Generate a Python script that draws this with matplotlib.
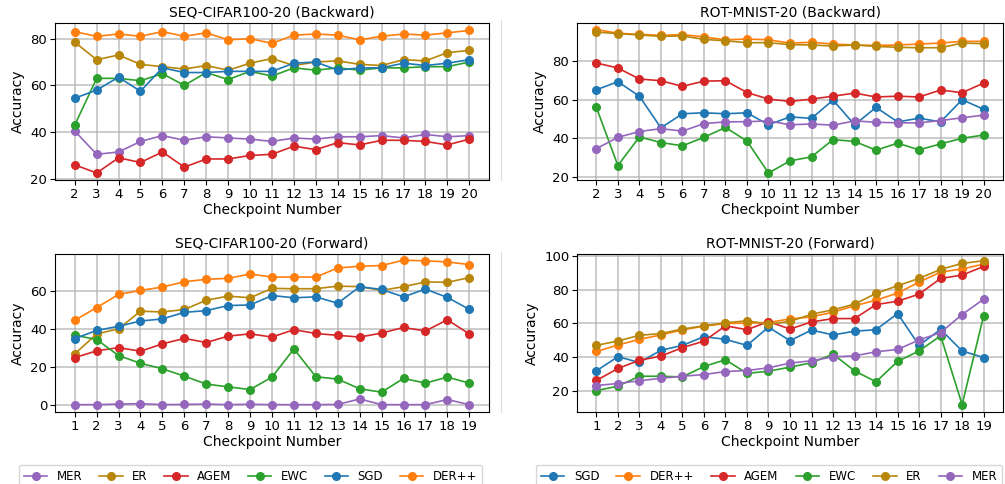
import matplotlib
matplotlib.use("Agg")
import matplotlib.pyplot as plt
from matplotlib.lines import Line2D

# ---------------- data ----------------
x_back = list(range(2, 21))
x_fwd = list(range(1, 20))

# SEQ-CIFAR100-20 (Backward)
cb_mer = [40.5, 30.5, 31.5, 36, 38.5, 36.5, 38, 37.5, 37, 36, 37.5, 37, 38, 38, 38.5, 37.5, 39, 38, 38.5]
cb_er = [78.5, 71, 73, 69, 68, 67, 68.5, 66.5, 69.5, 71.5, 68.5, 70, 70.5, 69, 68.5, 71, 70.5, 74, 75]
cb_agem = [26, 22.5, 29, 27, 31.5, 25, 28.5, 28.5, 30, 30.5, 34, 32.5, 35.5, 34.5, 36.5, 36.5, 36, 34.5, 37]
cb_ewc = [43, 63, 63, 62, 65, 60, 65.5, 62.5, 66, 64, 67.5, 66.5, 67.5, 66.5, 67.5, 67.5, 68, 68, 70]
cb_sgd = [54.5, 58, 63.5, 57.5, 67.5, 65.5, 65.5, 66, 66, 66, 69.5, 70, 66.5, 67.5, 67.5, 69.5, 68.5, 69.5, 71]
cb_derpp = [83, 81, 82, 81, 83, 81, 82.5, 79.5, 80, 78, 81.5, 82, 81.5, 79.5, 81, 82, 81.5, 82.5, 83.5]

# ROT-MNIST-20 (Backward)
mb_sgd = [65.1, 69.3, 61.8, 45.4, 52.7, 53.2, 52.7, 53.2, 47, 51.1, 50.3, 59.8, 47, 56, 48.5, 50.4, 48.5, 60, 55]
mb_derpp = [96.3, 94.4, 93.8, 93.3, 93.7, 92.5, 91, 91.4, 91, 89.3, 89.7, 88.8, 88.3, 88.1, 88.3, 88.8, 89.3, 90.2, 90.2]
mb_agem = [79, 76.4, 70.7, 69.8, 66.9, 69.6, 69.8, 63.7, 60.3, 59.1, 60.3, 61.8, 63.4, 61.4, 61.8, 61.4, 65, 63.6, 68.6]
mb_ewc = [56, 25.9, 40.7, 37.8, 36.1, 40.5, 45.6, 38.6, 22, 28.3, 30.4, 39.3, 38.4, 33.8, 37.5, 34, 37.1, 40, 41.7]
mb_er = [95, 94.2, 93.5, 92.8, 93, 91.2, 90.5, 89.5, 89.5, 88.5, 88.3, 87.8, 88.3, 87.6, 87.1, 86.9, 86.9, 89.3, 89]
mb_mer = [34.6, 40.5, 43.5, 45, 43.7, 47.6, 48.5, 48.6, 49, 47, 47.4, 46.8, 49, 48.3, 48, 48, 49.2, 50.6, 52]

# SEQ-CIFAR100-20 (Forward)
cf_mer = [0, 0, 0.3, 0.5, 0, 0.1, 0.3, 0, 0.2, 0, 0, 0, 0.1, 3.0, 0, 0, 0, 2.7, 0]
cf_er = [26.9, 37.4, 40.2, 49.5, 49.1, 50.4, 55.3, 57.5, 56.6, 61.6, 61.4, 61.4, 62.8, 62.5, 60.5, 62.5, 65, 64.8, 67.3]
cf_agem = [24.9, 28.5, 30.2, 28.3, 32.2, 35.1, 32.9, 36.3, 37.5, 35.8, 39.7, 37.7, 36.7, 35.8, 37.9, 40.9, 39, 45, 37.4]
cf_ewc = [36.8, 34.5, 26, 21.9, 19, 15.1, 10.9, 9.4, 8, 14.6, 29.5, 14.8, 13.5, 8.4, 6.6, 13.9, 11.4, 14.6, 11.4]
cf_sgd = [35, 39.3, 41.5, 44.3, 45.4, 48.9, 49.8, 52.5, 52.8, 57.8, 56.6, 57.1, 53.7, 62.5, 61, 57.1, 61.2, 56.8, 50.5]
cf_derpp = [44.7, 51.4, 58.4, 60.5, 62.3, 65.1, 66.4, 66.9, 69.2, 67.6, 67.6, 67.6, 72.4, 73.3, 73.7, 76.5, 76.2, 75.6, 74.2]

# ROT-MNIST-20 (Forward)
mf_sgd = [31.9, 40.3, 36.9, 44.1, 47, 52.2, 50.6, 47, 57.8, 49.8, 56.1, 53.2, 55.4, 56.3, 65.9, 47, 56.5, 43.7, 39.8]
mf_derpp = [43.4, 47.2, 50.6, 53.2, 56.2, 58.4, 60, 60.2, 60.6, 62.7, 63.9, 66.7, 70.5, 73.8, 78, 84.5, 90.5, 92.3, 95.2]
mf_agem = [26.2, 33.3, 38.2, 40.6, 45.7, 49.5, 58.6, 56.3, 61.1, 56.7, 60.9, 62.9, 62.9, 71.2, 73.2, 77.4, 86.7, 88.7, 93.8]
mf_ewc = [20.2, 22.8, 28.7, 28.7, 28.3, 34.5, 38.5, 30.4, 31.7, 34.1, 36.7, 41.8, 31.9, 25.4, 37.5, 43.7, 52.7, 11.9, 64.6]
mf_er = [47, 49.6, 53, 54, 56.7, 58.6, 60.4, 61.6, 59.6, 61.2, 65.5, 68.1, 71.5, 77.8, 82.4, 86.7, 92.1, 95.6, 97.2]
mf_mer = [23.2, 24.4, 26, 27.5, 28.7, 29.7, 31.5, 32.1, 33.7, 36.5, 37.9, 40.2, 40.8, 43.2, 44.6, 50.2, 54.6, 65.3, 74.4]

colors = {
    "SGD": "#1f77b4", "DER++": "#ff7f0e", "AGEM": "#d62728",
    "EWC": "#2ca02c", "ER": "#b8860b", "MER": "#9467bd",
}

left_order = ["MER", "ER", "AGEM", "EWC", "SGD", "DER++"]
right_order = ["SGD", "DER++", "AGEM", "EWC", "ER", "MER"]

panels = [
    ("SEQ-CIFAR100-20 (Backward)", x_back, left_order,
     {"MER": cb_mer, "ER": cb_er, "AGEM": cb_agem, "EWC": cb_ewc, "SGD": cb_sgd, "DER++": cb_derpp},
     (19.5, 86.7)),
    ("ROT-MNIST-20 (Backward)", x_back, right_order,
     {"SGD": mb_sgd, "DER++": mb_derpp, "AGEM": mb_agem, "EWC": mb_ewc, "ER": mb_er, "MER": mb_mer},
     (18.4, 99.7)),
    ("SEQ-CIFAR100-20 (Forward)", x_fwd, left_order,
     {"MER": cf_mer, "ER": cf_er, "AGEM": cf_agem, "EWC": cf_ewc, "SGD": cf_sgd, "DER++": cf_derpp},
     (-3.9, 79.8)),
    ("ROT-MNIST-20 (Forward)", x_fwd, right_order,
     {"SGD": mf_sgd, "DER++": mf_derpp, "AGEM": mf_agem, "EWC": mf_ewc, "ER": mf_er, "MER": mf_mer},
     (7.5, 101.2)),
]

W, H = 1005, 484
fig = plt.figure(figsize=(W / 100, H / 100), dpi=100)

# axes rectangles in pixels (left, top, right, bottom)
rects = [(55, 23, 489, 180), (577, 23, 1003, 180),
         (55, 254, 489, 412), (577, 254, 1003, 412)]

axes = []
for (title, xs, order, series, ylim), (l, t, r, b) in zip(panels, rects):
    ax = fig.add_axes([l / W, 1 - b / H, (r - l) / W, (b - t) / H])
    for name in order:
        ax.plot(xs, series[name], marker="o", markersize=5.5, linewidth=1.2,
                color=colors[name], label=name)
    ax.set_xticks(xs)
    ax.set_ylim(*ylim)
    ax.grid(True, color="#b0b0b0", linewidth=1.2, alpha=0.75)
    ax.set_title(title, fontsize=10, pad=5)
    ax.set_xlabel("Checkpoint Number", fontsize=10, labelpad=2)
    ax.set_ylabel("Accuracy", fontsize=10)
    ax.tick_params(labelsize=9.5, pad=2)
    axes.append(ax)

# legends below each column (partly cut off by figure edge as in reference)
leg_specs = [(axes[2], 19, 482), (axes[3], 536, 1002)]
for ax, x0, x1 in leg_specs:
    ax.legend(loc="upper left", bbox_to_anchor=(x0 / W, 1 - 465 / H, (x1 - x0) / W, 0),
              bbox_transform=fig.transFigure, mode="expand", ncol=6, fontsize=8.5,
              borderaxespad=0, frameon=True, handlelength=2.0)

# faint separator lines
for (yt, yb) in [(20, 180), (252, 412)]:
    fig.add_artist(Line2D([501 / W, 501 / W], [1 - yb / H, 1 - yt / H],
                          transform=fig.transFigure, color="#dddddd", linewidth=0.8))

fig.savefig("out.png", dpi=100)
